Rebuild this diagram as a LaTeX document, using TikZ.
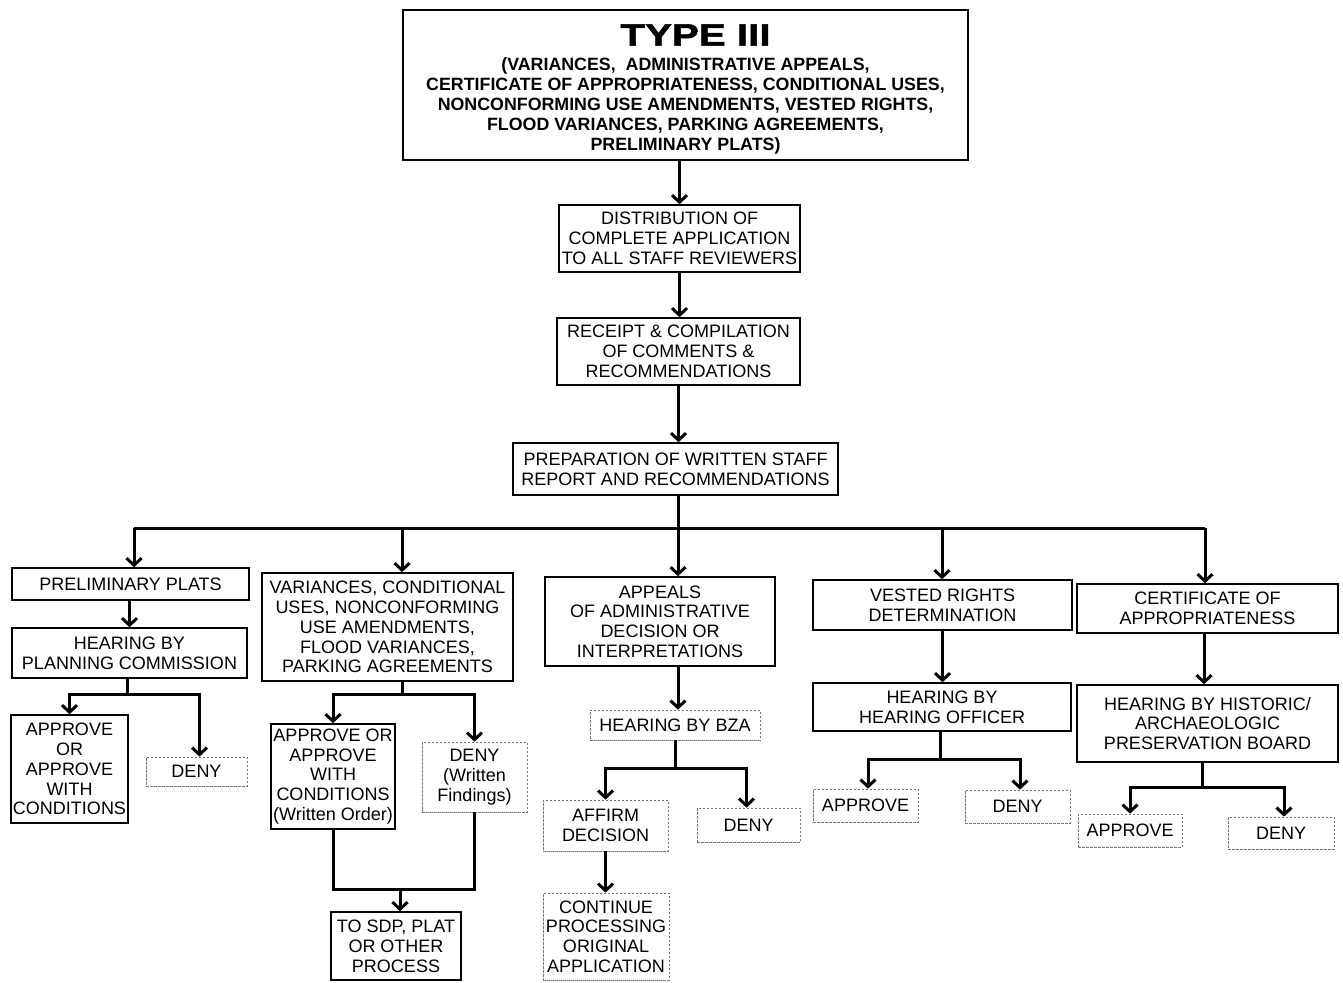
\documentclass[tikz,border=0pt]{standalone}
\usepackage{fontspec}
\setmainfont{Liberation Sans}
\newfontfamily\titlefont[BoldFeatures={FakeStretch=1.3,FakeBold=1.6}]{Liberation Sans}
\usetikzlibrary{arrows.meta}
\tikzset{
  box/.style={draw=black, line width=1.6pt, fill=white, inner sep=0pt, align=center,
    font=\fontsize{18}{19.8}\selectfont},
  dbox/.style={box, draw=black!55, line width=0.7pt, dash pattern=on 2.5pt off 1.5pt},
  titlebox/.style={box, line width=1.3pt, font=\bfseries\fontsize{17.8}{20}\selectfont},
  conn/.style={line width=3pt},
  arr/.style={conn, -{Straight Barb[length=7pt,width=15pt]}},
}
\begin{document}
\begin{tikzpicture}[x=1pt,y=-1pt]
\useasboundingbox (0,0) rectangle (1343,982);

% main chain
\node[titlebox, minimum width=565, minimum height=150] (top) at (685.5,85)
  {\rule{0pt}{30pt}\hspace*{20pt}{\titlefont\bfseries\fontsize{31}{31}\selectfont TYPE III}\\[5pt]
   (VARIANCES,\ \ ADMINISTRATIVE APPEALS,\\
   CERTIFICATE OF APPROPRIATENESS, CONDITIONAL USES,\\
   NONCONFORMING USE AMENDMENTS, VESTED RIGHTS,\\
   FLOOD VARIANCES, PARKING AGREEMENTS,\\
   PRELIMINARY PLATS)};
\node[box, minimum width=241, minimum height=67] (dist) at (679.5,238.5)
  {DISTRIBUTION OF\\COMPLETE APPLICATION\\TO ALL STAFF REVIEWERS};
\node[box, minimum width=243, minimum height=67] (rec) at (678.5,351.5)
  {RECEIPT \& COMPILATION\\OF COMMENTS \&\\RECOMMENDATIONS};
\node[box, minimum width=325, minimum height=52] (prep) at (675.5,469)
  {PREPARATION OF WRITTEN STAFF\\REPORT AND RECOMMENDATIONS};

% column 1
\node[box, minimum width=237, minimum height=32] (pp) at (130.5,584) {PRELIMINARY PLATS};
\node[box, minimum width=235, minimum height=50] (hpc) at (129.5,653) {HEARING BY\\PLANNING COMMISSION};
\node[box, minimum width=117, minimum height=108] (ap1) at (69.5,769) {APPROVE\\OR\\APPROVE\\WITH\\CONDITIONS};
\node[dbox, minimum width=101, minimum height=29] (dn1) at (196.5,771.5) {DENY};

% column 2
\node[box, minimum width=251, minimum height=108] (var) at (387.5,627)
  {VARIANCES, CONDITIONAL\\USES, NONCONFORMING\\USE AMENDMENTS,\\FLOOD VARIANCES,\\PARKING AGREEMENTS};
\node[box, minimum width=124, minimum height=105] (ap2) at (333,776.5)
  {APPROVE OR\\APPROVE\\WITH\\CONDITIONS\\(Written Order)};
\node[dbox, minimum width=105, minimum height=70] (dn2) at (474.5,777) {DENY\\(Written\\Findings)};
\node[box, minimum width=130, minimum height=68] (sdp) at (396,946) {TO SDP, PLAT\\OR OTHER\\PROCESS};

% column 3
\node[box, minimum width=230, minimum height=89] (app) at (660,621.5)
  {APPEALS\\OF ADMINISTRATIVE\\DECISION OR\\INTERPRETATIONS};
\node[dbox, minimum width=170, minimum height=30] (bza) at (675,725) {HEARING BY BZA};
\node[dbox, minimum width=125, minimum height=51] (aff) at (605.5,825.5) {AFFIRM\\DECISION};
\node[dbox, minimum width=103, minimum height=34] (dn3) at (748.5,825) {DENY};
\node[dbox, minimum width=126, minimum height=87] (cont) at (606,936.5)
  {CONTINUE\\PROCESSING\\ORIGINAL\\APPLICATION};

% column 4
\node[box, minimum width=259, minimum height=50] (ves) at (942.5,605) {VESTED RIGHTS\\DETERMINATION};
\node[box, minimum width=258, minimum height=48] (hho) at (942,707) {HEARING BY\\HEARING OFFICER};
\node[dbox, minimum width=105, minimum height=33] (ap4) at (865.5,805.5) {APPROVE};
\node[dbox, minimum width=105, minimum height=33] (dn4) at (1017.5,806.5) {DENY};

% column 5
\node[box, minimum width=261, minimum height=49] (cert) at (1207.5,608.5) {CERTIFICATE OF\\APPROPRIATENESS};
\node[box, minimum width=261, minimum height=77] (hhp) at (1207.5,723.5)
  {HEARING BY HISTORIC/\\ARCHAEOLOGIC\\PRESERVATION BOARD};
\node[dbox, minimum width=104, minimum height=33] (ap5) at (1130,830.5) {APPROVE};
\node[dbox, minimum width=106, minimum height=32] (dn5) at (1281,833) {DENY};

% coordinates
\coordinate (bus0) at (678,528);
\coordinate (bus1) at (134,528);
\coordinate (bus2) at (402,528);
\coordinate (bus4) at (942,528);
\coordinate (bus5) at (1205,528);
\coordinate (s1m) at (127,694);
\coordinate (s2m) at (402,694);
\coordinate (m2) at (400,889);
\coordinate (s3m) at (675,768);
\coordinate (s4m) at (940,759);
\coordinate (s5m) at (1202,787);

% main chain connectors
\draw[arr] (top.south -| dist.north) -- (dist.north);
\draw[arr] (dist.south) -- (dist.south |- rec.north);
\draw[arr] (rec.south) -- (rec.south |- prep.north);
\draw[conn] (prep.south -| bus0) -- (bus0);
\draw[conn] (bus1) -- (bus5);
\draw[arr] (bus1) -- (bus1 |- pp.north);
\draw[arr] (bus2) -- (bus2 |- var.north);
\draw[arr] (bus0) -- (bus0 |- app.north);
\draw[arr] (bus4) -- (bus4 |- ves.north);
\draw[arr] (bus5) -- (bus5 |- cert.north);

% column 1
\draw[arr] (hpc.north |- pp.south) -- (hpc.north);
\draw[conn] (s1m |- hpc.south) -- (s1m);
\draw[arr] (s1m) -| (ap1.north);
\draw[arr] (s1m) -| ([xshift=3pt]dn1.north);

% column 2
\draw[conn] (s2m |- var.south) -- (s2m);
\draw[arr] (s2m) -| (ap2.north);
\draw[arr] (s2m) -| (dn2.north);
\draw[conn] (ap2.south) |- (m2);
\draw[conn] (dn2.south) |- (m2);
\draw[arr] (m2) -- (m2 |- sdp.north);

% column 3
\draw[arr] (bus0 |- app.south) -- (bus0 |- bza.north);
\draw[conn] (s3m |- bza.south) -- (s3m);
\draw[arr] (s3m) -| (aff.north);
\draw[arr] (s3m) -| ([xshift=-2pt]dn3.north);
\draw[arr] (aff.south) -- (aff.south |- cont.north);

% column 4
\draw[arr] (ves.south) -- (ves.south |- hho.north);
\draw[conn] (s4m |- hho.south) -- (s4m);
\draw[arr] (s4m) -| ([xshift=2.5pt]ap4.north);
\draw[arr] (s4m) -| ([xshift=2.5pt]dn4.north);

% column 5
\draw[arr] ([xshift=-3.5pt]cert.south) -- ([xshift=-3.5pt]cert.south |- hhp.north);
\draw[conn] (s5m |- hhp.south) -- (s5m);
\draw[arr] (s5m) -| (ap5.north);
\draw[arr] (s5m) -| ([xshift=3pt]dn5.north);
\end{tikzpicture}
\end{document}
